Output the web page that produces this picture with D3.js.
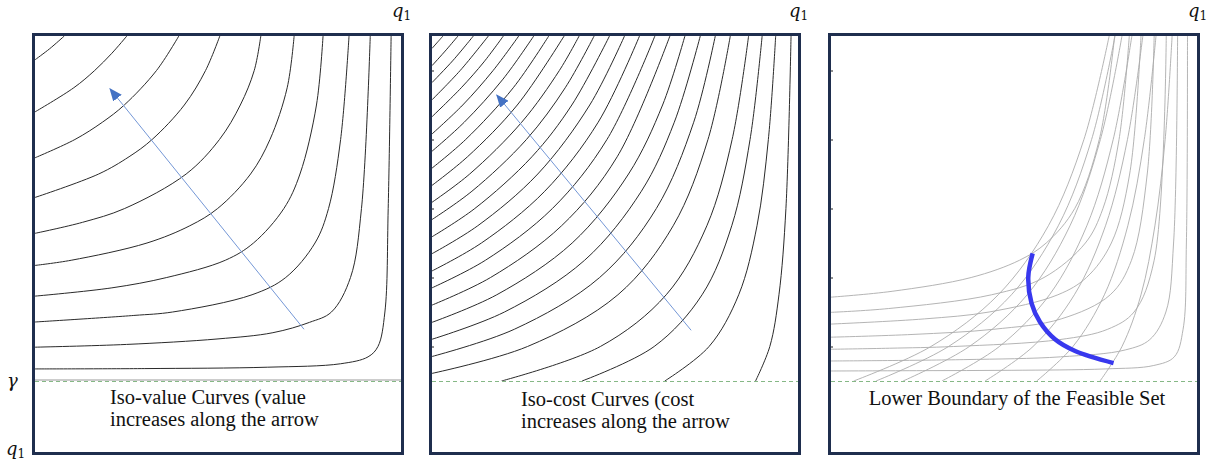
<!DOCTYPE html>
<html>
<head>
<meta charset="utf-8">
<script src="https://cdn.jsdelivr.net/npm/d3@7"></script>
<style>
  body { margin: 0; background: #fff; }
  svg { display: block; }
</style>
</head>
<body>
<div id="chart"></div>
<script>
// Iso-value curves, left panel ([q1, q2] points, 0-100 on both axes)
var isoValueCurves = [
    [[0,93.1],[4,96.3],[8,100]],
    [[0,78.0],[10.6,85],[16.3,90],[21,95],[25.1,100]],
    [[0,64.7],[10.9,70],[18.4,75],[24.4,80],[33.2,90],[39.3,100]],
    [[0,53.2],[17.4,60],[25.7,65],[32.0,70],[40.8,80],[46.6,90],[50.5,100]],
    [[0,42.8],[13.0,46],[24.5,50],[41.3,60],[50.4,70],[56.1,80],[59.9,90],[61.7,100]],
    [[0,33.5],[9.9,35],[30.6,40],[42.3,45],[49.9,50],[58.9,60],[64.2,70],[68.9,85],[70.8,100]],
    [[0,24.6],[21,27],[36,30],[52,35],[59.7,40],[68,50],[72.4,60],[76.9,80],[78.7,100]],
    [[0,17.1],[27,19],[37.6,20],[59.3,25],[68.5,30],[76.5,40],[80.2,50],[83.5,70],[85.8,100]],
    [[0,9.8],[25,10.6],[50,12.2],[65,14],[75,17],[81,20],[86.2,30],[89.2,50],[91.6,100]],
    [[0,3.5],[30,3.6],[63.6,4],[83.5,5],[91,7],[93.7,10],[95.6,20],[96.5,50],[97.3,100]]
];

// Iso-cost curves, middle panel
var isoCostCurves = [
    [[0,96.4],[1.5,98.2],[3.0,100]],
    [[0,91.4],[3.9,96],[7.1,100]],
    [[0,86.5],[5.8,93],[11.3,100]],
    [[0,81.5],[7.7,90],[15.4,100]],
    [[0,76.6],[8.0,85],[14.2,92.5],[19.5,100]],
    [[0,71.6],[8.4,80],[16.7,90],[23.7,100]],
    [[0,66.6],[8.8,75],[19.4,87.5],[27.8,100]],
    [[0,61.7],[9.2,70],[22.2,85],[31.9,100]],
    [[0,56.7],[9.7,65],[23.3,80],[36.1,100]],
    [[0,51.8],[10.3,60],[24.5,75],[34.8,90],[40.2,100]],
    [[0,46.8],[10.9,55],[25.8,70],[36.4,85],[44.3,100]],
    [[0,41.8],[11.7,50],[27.3,65],[38.2,80],[48.5,100]],
    [[0,36.9],[12.5,45],[28.9,60],[43.1,80],[52.6,100]],
    [[0,31.9],[13.5,40],[30.8,55],[45.4,75],[56.7,100]],
    [[0,27.0],[14.6,35],[32.9,50],[47.8,70],[60.9,100]],
    [[0,22],[16,30],[35.4,45],[50.6,65],[65,100]],
    [[0,17],[17.7,25],[38.3,40],[53.7,60],[63,80],[69.1,100]],
    [[0,12.1],[19.8,20],[41.7,35],[57.2,55],[66.2,75],[73.3,100]],
    [[0,7.1],[22.5,15],[45.8,30],[61.3,50],[71.5,75],[77.4,100]],
    [[0,2.2],[26.1,10],[50.8,25],[65.9,45],[75.4,70],[81.5,100]],
    [[19,0],[46,10],[64,25],[75.1,45],[82,70],[86.5,100]],
    [[41,0],[60.7,10],[73.8,25],[81.9,45],[86.9,70],[90.2,100]],
    [[63.6,0],[75.7,10],[83.8,25],[88.8,45],[91.9,70],[93.9,100]],
    [[88.4,0],[92.3,10],[94.8,25],[96.7,50],[98.1,100]]
];

// Right panel: both families, and the lower boundary drawn over them
var feasibleValueCurves = [
    [[0,24.3],[16.7,26],[38.3,30],[51.5,35],[58.8,40],[66.6,50],[73.3,70],[77.5,100]],
    [[0,19.9],[15.7,21],[43.9,25],[58.2,30],[69.5,40],[74.3,50],[78.7,70],[81.5,100]],
    [[0,16.5],[25.5,18],[43.2,20],[62,25],[69.8,30],[76.6,40],[81.6,60],[84.7,100]],
    [[0,12.7],[22.4,13.5],[44.5,15],[62.9,18],[76.3,25],[82.1,35],[86.4,60],[88.3,100]],
    [[0,9.2],[16,9.5],[33.5,10],[62.5,12],[75.6,15],[82.8,20],[88.3,35],[91.6,100]],
    [[0,5.8],[36.3,6.2],[62.7,7],[80.4,9],[87.1,12],[91.5,20],[93.6,40],[94.7,100]],
    [[0,2.9],[25,3.0],[49.2,3.1],[74.9,3.5],[88.2,4.5],[93.8,7],[96.2,15],[97.1,40],[97.4,100]]
];
var feasibleCostCurves = [
    [[6.2,0],[27.3,10],[45.7,25],[59.4,45],[69.1,70],[76.0,100]],
    [[12.3,0],[32.1,10],[49.3,25],[62.1,45],[71.2,70],[77.6,100]],
    [[19.7,0],[37.8,10],[53.6,25],[65.3,45],[73.6,70],[79.5,100]],
    [[30.3,0],[46.0,10],[59.7,25],[69.9,45],[77.1,70],[82.2,100]],
    [[42.1,0],[55.2,10],[66.5,25],[75.0,45],[81.0,70],[85.2,100]],
    [[56.2,0],[66.1,10],[74.7,25],[81.1,45],[85.6,70],[88.8,100]],
    [[73.5,0],[79.5,10],[84.7,25],[88.5,45],[91.3,70],[93.2,100]]
];
var boundaryPoints = [[55.1,37.0],[53.9,30.1],[54.8,22.5],[57.1,17.1],[61.2,12.1],[66.7,8.7],[77.2,5.2]];

// Arrows: [tail, head]
var valueArrow = [[73.5,15.0],[20.5,84.7]];
var costArrow = [[70.8,14.7],[17.7,82.9]];

var leftTicks = [10, 30, 50, 70, 90];

var panelLabels = [
    ['Iso-value Curves (value', 'increases along the arrow'],
    ['Iso-cost Curves (cost', 'increases along the arrow'],
    ['Lower Boundary of the Feasible Set']
];

(function() {
    'use strict';

    var width = 1209, height = 462;
    var panelLeft = [35, 432, 831];
    var plotW = 366, plotTop = 36, plotH = 345, boxBottom = 452;
    var serif = "'Liberation Serif', 'Times New Roman', serif";
    var mathFont = "'DejaVu Serif', serif";

    var svg = d3.select('#chart').append('svg')
        .attr('width', width)
        .attr('height', height);
    var defs = svg.append('defs');

    defs.append('marker')
        .attr('id', 'arrowhead')
        .attr('viewBox', '0 0 12 10')
        .attr('refX', 11)
        .attr('refY', 5)
        .attr('markerUnits', 'userSpaceOnUse')
        .attr('markerWidth', 13)
        .attr('markerHeight', 11)
        .attr('orient', 'auto')
        .append('path')
        .attr('d', 'M0,0 L12,5 L0,10 Z')
        .attr('fill', '#4472c4');

    function makePanel(i) {
        var g = svg.append('g')
            .attr('transform', 'translate(' + panelLeft[i] + ',' + plotTop + ')');
        var x = d3.scaleLinear().domain([0, 100]).range([0, plotW]);
        var y = d3.scaleLinear().domain([0, 100]).range([plotH, 0]);

        defs.append('clipPath').attr('id', 'clip' + i)
            .append('rect')
            .attr('x', 0).attr('y', 0)
            .attr('width', plotW).attr('height', plotH);

        var plot = g.append('g').attr('clip-path', 'url(#clip' + i + ')');
        var line = d3.line()
            .x(function(d) { return x(d[0]); })
            .y(function(d) { return y(d[1]); })
            .curve(d3.curveCatmullRom.alpha(0.5));

        return { g: g, plot: plot, x: x, y: y, line: line };
    }

    function drawCurves(p, curves, color, strokeWidth) {
        p.plot.append('g')
            .selectAll('path')
            .data(curves)
            .join('path')
            .attr('d', p.line)
            .attr('fill', 'none')
            .attr('stroke', color)
            .attr('stroke-width', strokeWidth);
    }

    function drawArrow(p, pts) {
        p.g.append('line')
            .attr('x1', p.x(pts[0][0])).attr('y1', p.y(pts[0][1]))
            .attr('x2', p.x(pts[1][0])).attr('y2', p.y(pts[1][1]))
            .attr('stroke', '#7497d6')
            .attr('stroke-width', 1)
            .attr('marker-end', 'url(#arrowhead)');
    }

    function mathLabel(parent, x, y, letter, sub) {
        var t = parent.append('text')
            .attr('x', x).attr('y', y)
            .attr('font-family', mathFont)
            .attr('font-size', 18)
            .attr('fill', '#111');
        t.append('tspan').attr('font-style', 'italic').text(letter);
        if (sub) t.append('tspan').attr('font-size', 12).attr('dy', 3).text(sub);
        return t;
    }

    function drawFrame(p, i, withTicks) {
        var g = p.g;
        // gamma baseline, dashed
        if (i === 0) {
            g.append('line')
                .attr('x1', 0).attr('x2', plotW)
                .attr('y1', p.y(0) - 1).attr('y2', p.y(0) - 1)
                .attr('stroke', '#9a9a9a').attr('stroke-width', 1);
        }
        g.append('line')
            .attr('x1', 0).attr('x2', plotW)
            .attr('y1', p.y(0) + 0.5).attr('y2', p.y(0) + 0.5)
            .attr('stroke', '#86b886')
            .attr('stroke-width', 1)
            .attr('stroke-dasharray', '4,3');

        if (withTicks) {
            var ax = g.append('g')
                .call(d3.axisRight(p.y).tickValues(leftTicks).tickSize(2).tickFormat(''));
            ax.select('.domain').remove();
            ax.selectAll('.tick line').attr('stroke', '#222').attr('stroke-width', 1.2);
        }

        g.append('rect')
            .attr('x', -1.5).attr('y', -1.5)
            .attr('width', plotW + 3)
            .attr('height', boxBottom - plotTop + 3)
            .attr('fill', 'none')
            .attr('stroke', '#1f2e4e')
            .attr('stroke-width', 3);

        // q1 at the top-right corner
        mathLabel(g, plotW - 9, -19, 'q', '1');
    }

    function drawLabel(p, lines, lx, anchor, dy) {
        var t = p.g.append('text')
            .attr('font-family', serif)
            .attr('font-size', 20.5)
            .attr('fill', '#111')
            .attr('text-anchor', anchor);
        lines.forEach(function(s, k) {
            t.append('tspan')
                .attr('x', lx)
                .attr('y', plotH + 23 + dy + k * 21.5)
                .text(s);
        });
    }

    // Panel 1: iso-value curves
    var p1 = makePanel(0);
    drawCurves(p1, isoValueCurves, '#2a2a2a', 1);
    drawArrow(p1, valueArrow);
    drawFrame(p1, 0, false);
    drawLabel(p1, panelLabels[0], 75, 'start', 0);

    // Panel 2: iso-cost curves
    var p2 = makePanel(1);
    drawCurves(p2, isoCostCurves, '#2a2a2a', 1);
    drawArrow(p2, costArrow);
    drawFrame(p2, 1, true);
    drawLabel(p2, panelLabels[1], 89, 'start', 2);

    // Panel 3: both families + lower boundary
    var p3 = makePanel(2);
    drawCurves(p3, feasibleValueCurves, '#ababab', 0.9);
    drawCurves(p3, feasibleCostCurves, '#ababab', 0.9);
    p3.g.append('path')
        .datum(boundaryPoints)
        .attr('d', p3.line)
        .attr('fill', 'none')
        .attr('stroke', '#3838ee')
        .attr('stroke-width', 4.5);
    drawFrame(p3, 2, true);
    drawLabel(p3, panelLabels[2], 186, 'middle', 1);

    // Axis symbols on the far left
    mathLabel(svg, 7, 387, '\u03b3', null);
    mathLabel(svg, 6, 455, 'q', '1');
})();
</script>
</body>
</html>
